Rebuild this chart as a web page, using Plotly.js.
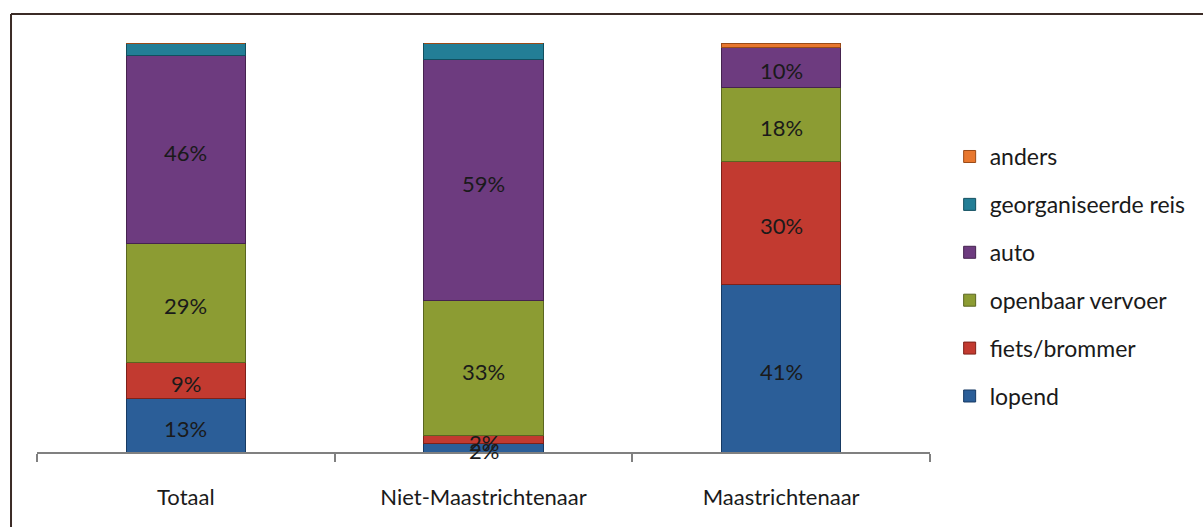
<!DOCTYPE html>
<html>
<head>
<meta charset="utf-8">
<script src="https://cdn.plot.ly/plotly-3.0.1.min.js"></script>
<style>html,body{margin:0;padding:0;background:#fff;} #chart{width:1203px;height:527px;}</style>
</head>
<body>
<div id="chart"></div>
<script>
var categories = ['Totaal', 'Niet-Maastrichtenaar', 'Maastrichtenaar'];
var seriesNames = ['lopend', 'fiets/brommer', 'openbaar vervoer', 'auto', 'georganiseerde reis', 'anders'];
var lopend = [13, 2, 41];
var fietsBrommer = [9, 2, 30];
var openbaarVervoer = [29, 33, 18];
var auto = [46, 59, 10];
var georganiseerdeReis = [3, 4, 0];
var anders = [0, 0, 1];
var showLabel = [true, true, true, true, false, false];

var seriesValues = [lopend, fietsBrommer, openbaarVervoer, auto, georganiseerdeReis, anders];
var colors = ['#2b5e98', '#c23a30', '#8c9c33', '#6d3b7f', '#237e96', '#e8772e'];
var edgeColors = ['#173a63', '#7e2119', '#5a6620', '#45234f', '#124f5f', '#9a4a17'];

var FONT = 'Lato, Calibri, Carlito, "Liberation Sans", sans-serif';

var traces = seriesValues.map(function (vals, i) {
  return {
    type: 'bar',
    name: seriesNames[i],
    x: categories,
    y: vals,
    legendgroup: 'g' + i,
    legendrank: 100 - i,
    marker: {color: colors[i], line: {color: edgeColors[i], width: 1}},
    textposition: 'none',
    hoverinfo: 'name+y'
  };
});

// value labels at the middle of each stacked segment, computed from the data
var annotations = [];
categories.forEach(function (cat, c) {
  var base = 0;
  seriesValues.forEach(function (vals, i) {
    var v = vals[c];
    if (showLabel[i]) {
      annotations.push({
        x: cat, y: base + v / 2, xref: 'x', yref: 'y',
        text: v + '%', showarrow: false, yshift: -3,
        font: {family: FONT, size: 22, color: '#1a1a1a'}
      });
    }
    base += v;
  });
});

var layout = {
  width: 1203,
  height: 527,
  margin: {l: 37, r: 273, t: 43, b: 75},
  paper_bgcolor: '#ffffff',
  plot_bgcolor: '#ffffff',
  barmode: 'stack',
  bargap: 0.6,
  font: {family: FONT, size: 22, color: '#1a1a1a'},
  xaxis: {
    type: 'category',
    showgrid: false,
    zeroline: false,
    showline: true,
    linecolor: '#808080',
    linewidth: 2,
    ticks: 'outside',
    tickson: 'boundaries',
    ticklen: 8,
    tickwidth: 2,
    tickcolor: '#808080',
    ticklabelstandoff: 25,
    tickfont: {family: FONT, size: 22, color: '#1a1a1a'}
  },
  yaxis: {
    range: [0, 100],
    visible: false,
    showgrid: false,
    zeroline: false,
    fixedrange: true
  },
  legend: {
    x: 1.022,
    xanchor: 'left',
    y: 0.429,
    yanchor: 'middle',
    traceorder: 'grouped',
    tracegroupgap: 15,
    font: {family: FONT, size: 23, color: '#1a1a1a'},
    bgcolor: 'rgba(0,0,0,0)'
  },
  annotations: annotations,
  shapes: [
    {type: 'line', xref: 'paper', yref: 'paper', x0: -0.0291, x1: 1.31, y0: 1.0709, y1: 1.0709,
     line: {color: '#3b2b26', width: 2}},
    {type: 'line', xref: 'paper', yref: 'paper', x0: -0.0291, x1: -0.0291, y0: 1.0709, y1: -0.19,
     line: {color: '#3b2b26', width: 2}}
  ],
  showlegend: true
};

Plotly.newPlot('chart', traces, layout, {displayModeBar: false, staticPlot: true});
</script>
</body>
</html>
